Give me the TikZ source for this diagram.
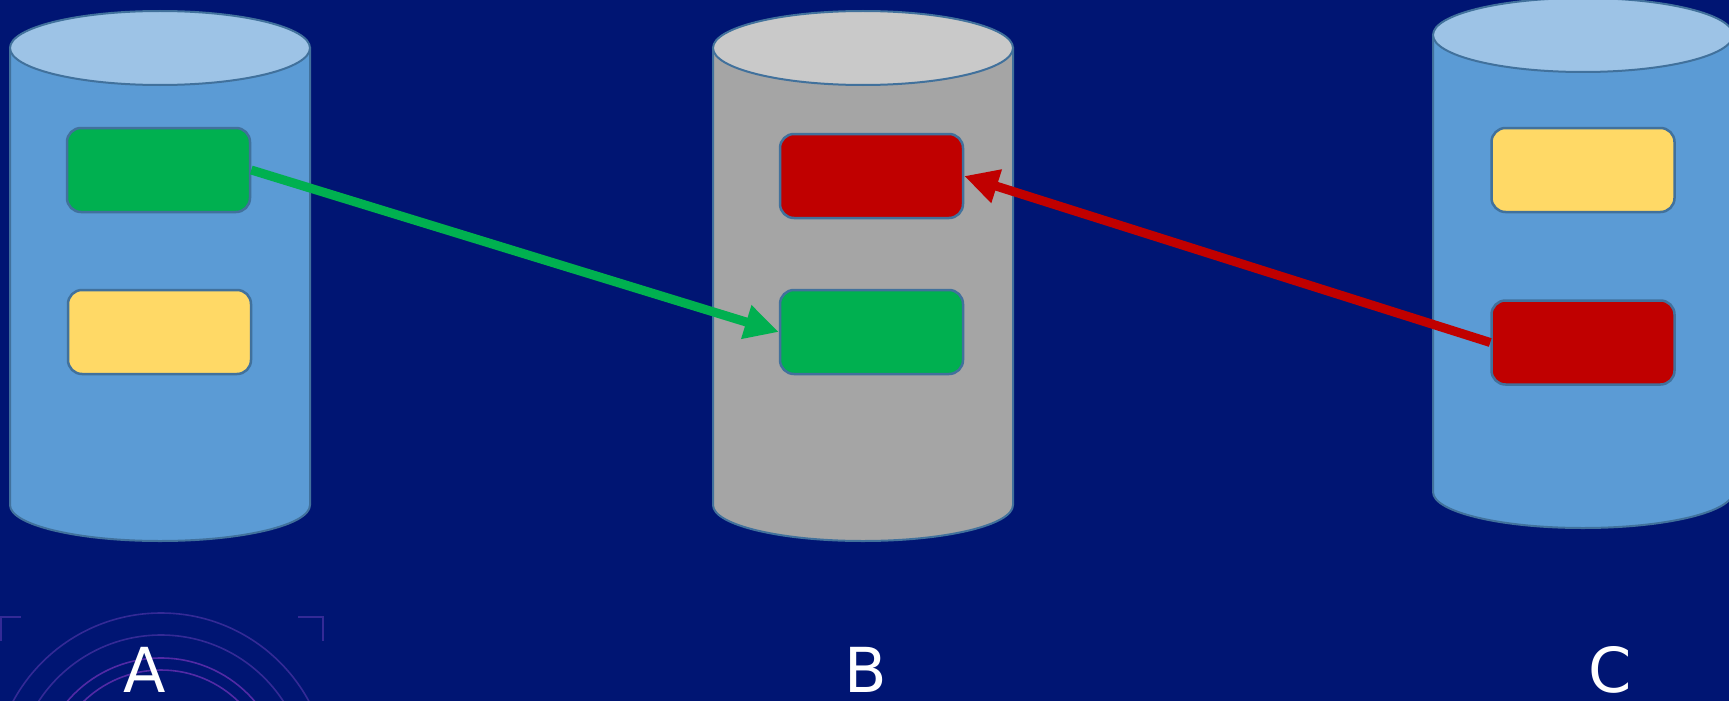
\documentclass[tikz,border=0pt]{standalone}
\usepackage{fontspec}
\setmainfont{DejaVu Sans}
\usetikzlibrary{arrows.meta}

\definecolor{navy}{RGB}{0,21,115}
\definecolor{rim}{HTML}{41719C}
\definecolor{blueside}{HTML}{5B9BD5}
\definecolor{bluetop}{HTML}{9DC3E6}
\definecolor{grayside}{HTML}{A5A5A5}
\definecolor{graytop}{HTML}{C9C9C9}
\definecolor{okgreen}{HTML}{00B050}
\definecolor{badred}{HTML}{C00000}
\definecolor{softyellow}{HTML}{FFD966}
\definecolor{ringouter}{RGB}{52,42,150}
\definecolor{ringinner}{RGB}{82,42,165}

\tikzset{
  record/.style={rectangle, rounded corners=14pt, minimum width=183pt,
    minimum height=84pt, inner sep=0pt, draw=rim, line width=2.5pt},
  flow/.style={line width=9pt, -{Triangle[length=34pt,width=33pt]}},
  caption/.style={text=white, anchor=base, font=\fontsize{62}{70}\selectfont},
  ring/.style={line width=1.6pt},
}

% cylinder: #1 left x, #2 top centre y, #3 bottom centre y, #4 side, #5 top
\newcommand{\drum}[5]{%
  \filldraw[fill=#4, draw=rim, line width=2pt]
    (#1,#2) -- (#1,#3)
    arc[start angle=180, end angle=360, x radius=150pt, y radius=36pt]
    -- ({#1+300},#2) -- cycle;
  \filldraw[fill=#5, draw=rim, line width=2pt]
    ({#1+150},#2) ellipse[x radius=150pt, y radius=37pt];
}

\begin{document}
\begin{tikzpicture}[x=1pt, y=-1pt]
  \useasboundingbox (0,0) rectangle (1729,701);
  \clip (0,0) rectangle (1729,701);
  \fill[navy] (0,0) rectangle (1729,701);

  % faint rings and corner marks at the lower left
  \foreach \r/\c in {168/ringouter, 146/ringouter, 123/ringinner, 111/ringinner}
    \draw[ring, \c] (161,781) circle[radius=\r pt];
  \draw[ring, ringouter] (1,641) -- (1,617) -- (21,617);
  \draw[ring, ringouter] (298,617) -- (323,617) -- (323,641);

  % the three stores
  \drum{10}{48}{505}{blueside}{bluetop}
  \drum{713}{48}{505}{grayside}{graytop}
  \drum{1433}{35}{492}{blueside}{bluetop}

  % records inside each store
  \node[record, fill=okgreen]    (ag) at (158.5,170) {};
  \node[record, fill=softyellow] (ay) at (159.5,332) {};
  \node[record, fill=badred]     (br) at (871.5,176) {};
  \node[record, fill=okgreen]    (bg) at (871.5,332) {};
  \node[record, fill=softyellow] (cy) at (1583,170) {};
  \node[record, fill=badred]     (cr) at (1583,342.5) {};

  % transfers
  \draw[flow, okgreen] (ag.east) -- (bg.west);
  \draw[flow, badred] (cr.west) -- (br.east);

  % store names
  \node[caption] (la) at (145,692) {A};
  \node[caption] (lb) at (866,692) {B};
  \node[caption] (lc) at (1610,692) {C};
\end{tikzpicture}
\end{document}
